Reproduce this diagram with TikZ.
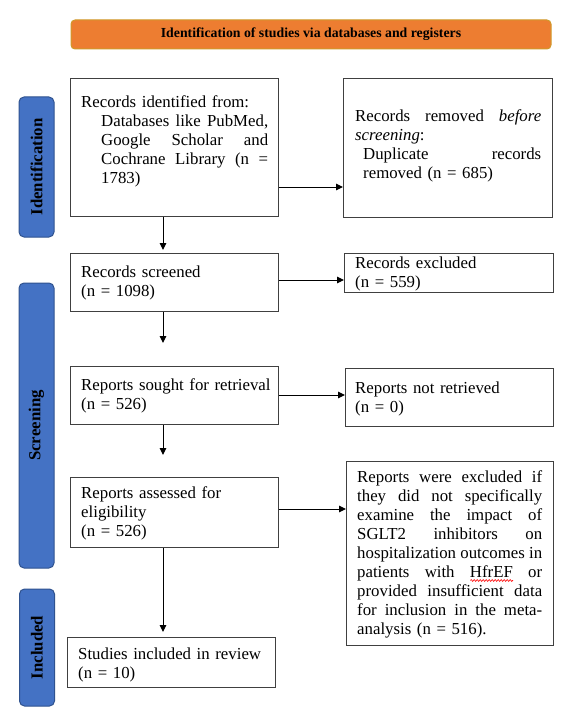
\documentclass[tikz,border=0pt]{standalone}
\usepackage{fontspec}
\setmainfont{Liberation Serif}
\usetikzlibrary{arrows.meta,decorations.pathmorphing}
\definecolor{hdrfill}{HTML}{ED7D31}
\definecolor{hdrline}{HTML}{D09A2A}
\definecolor{barfill}{HTML}{4472C4}
\definecolor{barline}{HTML}{2F528F}
\definecolor{boxline}{HTML}{404040}
\newcommand\jl[2]{\makebox[#1][s]{\spaceskip=0pt \xspaceskip=0pt #2}}
\newsavebox\wavebox
\newcommand\redwave[1]{\sbox\wavebox{#1}\rlap{\tikz[baseline=0pt]\draw[red, line width=0.6pt, decorate, decoration={snake, amplitude=0.9pt, segment length=3pt}] (0pt,-3.5pt) -- (\wd\wavebox,-3.5pt);}\usebox\wavebox}
\tikzset{
  box/.style={draw=boxline, line width=1pt, rectangle, anchor=north west, inner sep=0pt},
  txt/.style={anchor=base west, inner sep=0pt, align=left, font=\fontsize{16.8}{19}\selectfont},
  bar/.style={draw=barline, line width=1pt, fill=barfill, rounded corners=5pt, inner sep=0pt,
    rotate=90, minimum height=35pt, font=\fontsize{16.8}{19}\selectfont\bfseries},
  hdr/.style={draw=hdrline, line width=1pt, fill=hdrfill, rounded corners=4pt, inner sep=0pt,
    minimum width=480pt, minimum height=29pt, font=\fontsize{13.8}{16}\selectfont\bfseries},
  arr/.style={-{Triangle[length=7pt,width=6.5pt]}, line width=1pt, black}
}
\begin{document}
\begin{tikzpicture}[x=1pt,y=-1pt]
\useasboundingbox[fill=white] (0,0) rectangle (578,722);
% header
\node[hdr] (hdr) at (311,34.5) {Identification of studies via databases and registers};
% side bars
\node[bar, minimum width=140pt] (s1) at (36.5,167) {Identification};
\node[bar, minimum width=285pt] (s2) at (36.5,425.5) {Screening};
\node[bar, minimum width=117pt] (s3) at (37,647.5) {Included};
% boxes
\node[box, minimum width=208pt, minimum height=138pt] (b1) at (70,78) {};
\node[box, minimum width=209pt, minimum height=139pt] (b2) at (343,78) {};
\node[box, minimum width=208pt, minimum height=58pt] (b3) at (70,253) {};
\node[box, minimum width=209pt, minimum height=39pt] (b4) at (344,253) {};
\node[box, minimum width=208pt, minimum height=58pt] (b5) at (70,366) {};
\node[box, minimum width=208pt, minimum height=70pt] (b6) at (70,477) {};
\node[box, minimum width=208pt, minimum height=58pt] (b7) at (345,368) {};
\node[box, minimum width=207pt, minimum height=184pt] (b8) at (346,461) {};
\node[box, minimum width=208pt, minimum height=50pt] (b9) at (67,637) {};
% texts
\node[txt, text width=187pt] (t1) at (81,108) {Records identified from:\\
\hspace*{20pt}\jl{167pt}{Databases like PubMed,}\\
\hspace*{20pt}\jl{167pt}{Google Scholar and}\\
\hspace*{20pt}\jl{167pt}{Cochrane Library (n =}\\
\hspace*{20pt}1783)};
\node[txt, text width=186pt] (t2) at (355,122) {\jl{186pt}{Records removed \emph{before}}\\
\emph{screening}:\\
\hspace*{8pt}\jl{178pt}{Duplicate records}\\
\hspace*{8pt}removed (n = 685)};
\node[txt, text width=190pt] (t3) at (81,277) {Records screened\\(n = 1098)};
\node[txt, text width=190pt] (t4) at (355,268) {Records excluded\\(n = 559)};
\node[txt, text width=195pt] (t5) at (81,390) {Reports sought for retrieval\\(n = 526)};
\node[txt, text width=190pt] (t6) at (81,498) {Reports assessed for\\eligibility\\(n = 526)};
\node[txt, text width=190pt] (t7) at (355,393) {Reports not retrieved\\(n = 0)};
\node[txt, text width=185pt] (t8) at (357,482) {\jl{185pt}{Reports were excluded if}\\
\jl{185pt}{they did not specifically}\\
\jl{185pt}{examine the impact of}\\
\jl{185pt}{SGLT2 inhibitors on}\\
\jl{185pt}{hospitalization outcomes in}\\
\jl{185pt}{patients with \redwave{HfrEF} or}\\
\jl{185pt}{provided insufficient data}\\
\jl{185pt}{for inclusion in the meta-}\\
analysis (n = 516).};
\node[txt, text width=195pt] (t9) at (78,659) {Studies included in review\\(n = 10)};
% connectors
\coordinate (vx) at (163,0);
\coordinate (h1) at (0,187);
\coordinate (h2) at (0,280);
\coordinate (h3) at (0,395);
\coordinate (h4) at (0,509);
\draw[arr, shorten >=3pt] (b1.south -| vx) -- (b3.north -| vx);
\draw[arr, shorten >=23pt] (b3.south -| vx) -- (b5.north -| vx);
\draw[arr, shorten >=22pt] (b5.south -| vx) -- (b6.north -| vx);
\draw[arr, shorten >=5pt] (b6.south -| vx) -- (b9.north -| vx);
\draw[arr] (b1.east |- h1) -- (b2.west |- h1);
\draw[arr] (b3.east |- h2) -- (b4.west |- h2);
\draw[arr] (b5.east |- h3) -- (b7.west |- h3);
\draw[arr] (b6.east |- h4) -- (b8.west |- h4);
\end{tikzpicture}
\end{document}
